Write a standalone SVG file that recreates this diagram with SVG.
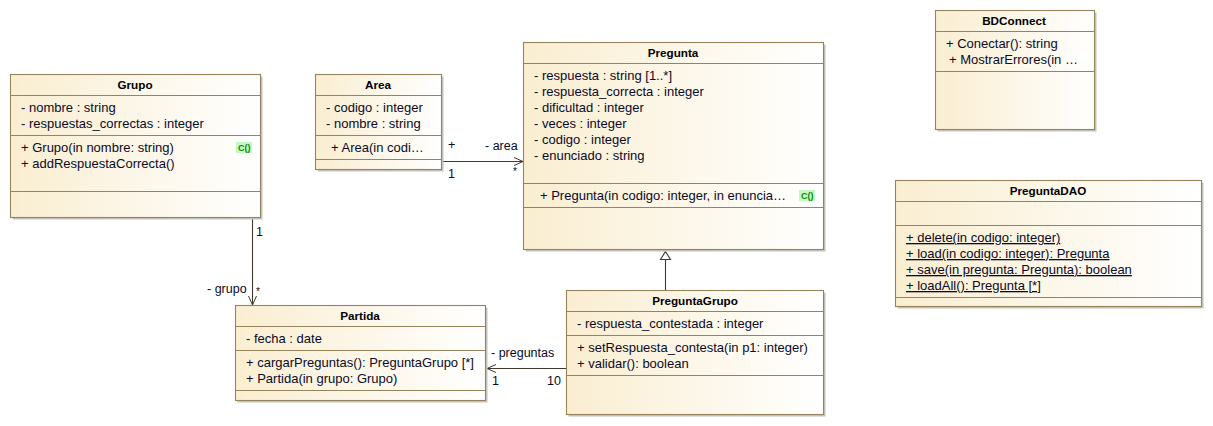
<svg xmlns="http://www.w3.org/2000/svg" width="1213" height="426" viewBox="0 0 1213 426">
<style>
text{font-family:"Liberation Sans",Arial,sans-serif;font-size:13px;fill:#0a0a28}
.t{font-weight:bold;font-size:11.700px;text-anchor:middle;fill:#000}
.box{fill:url(#g);stroke:#96855c;stroke-width:1.100}
.sh{fill:#c4c4bc}
.sep{stroke:#96855c;stroke-width:1;fill:none}
.c{stroke:#3f3a2a;stroke-width:1.100;fill:none}
.u{text-decoration:underline}
.b{fill:#c4f7c4}
.bt{font-size:9px;font-weight:bold;fill:#0a8a0a}
.s{font-size:10px}
.l{font-size:12.500px}
</style>
<defs>
<linearGradient id="g" x1="0" y1="0" x2="1" y2="0"><stop offset="0" stop-color="#faeed1"/><stop offset="1" stop-color="#ffffff"/></linearGradient>
<marker id="open" viewBox="0 0 10 10" refX="10" refY="5" markerWidth="10" markerHeight="10" markerUnits="userSpaceOnUse" orient="auto"><path d="M1 1L10 5L1 9" fill="none" stroke="#3f3a2a" stroke-width="1"/></marker>
</defs>
<g id="connectors">
<path class="c" d="M252.500 218V305" marker-end="url(#open)"/>
<path class="c" d="M443 161.500H523" marker-end="url(#open)"/>
<path class="c" d="M566 368.500H487" marker-end="url(#open)"/>
<path class="c" d="M665.500 290V260"/>
<path class="c" d="M665.500 251.500L670.500 259.500H660.500Z" style="fill:#fff"/>
<text x="256" y="236" class="l">1</text>
<text x="207" y="293" class="l">- grupo</text>
<text x="256" y="295" class="s">*</text>
<text x="448" y="149" class="l">+</text>
<text x="485" y="150" class="l">- area</text>
<text x="448" y="178" class="l">1</text>
<text x="513" y="175" class="s">*</text>
<text x="491" y="357" class="l">- preguntas</text>
<text x="492" y="385" class="l">1</text>
<text x="547" y="385" class="l">10</text>
</g>
<g id="Grupo">
<rect class="sh" x="12.500" y="76.500" width="250" height="143"/>
<rect class="box" x="10.500" y="74.500" width="250" height="143"/>
<path class="sep" d="M10.500 95.500H260.500M10.500 135.500H260.500M10.500 191.500H260.500"/>
<text class="t" x="135" y="89">Grupo</text>
<text x="21" y="112">- nombre : string</text>
<text x="21" y="128">- respuestas_correctas : integer</text>
<text x="21" y="152">+ Grupo(in nombre: string)</text>
<text x="21" y="168">+ addRespuestaCorrecta()</text>
<rect class="b" x="236" y="142" width="16" height="11"/>
<text class="bt" x="238" y="151">C()</text>
</g>
<g id="Area">
<rect class="sh" x="317.500" y="76.500" width="126" height="95"/>
<rect class="box" x="315.500" y="74.500" width="126" height="95"/>
<path class="sep" d="M315.500 95.500H441.500M315.500 135.500H441.500M315.500 159.500H441.500"/>
<text class="t" x="378" y="89">Area</text>
<text x="326" y="112">- codigo : integer</text>
<text x="326" y="128">- nombre : string</text>
<text x="331" y="152">+ Area(in codi…</text>
</g>
<g id="Pregunta">
<rect class="sh" x="525.500" y="44.500" width="300" height="207"/>
<rect class="box" x="523.500" y="42.500" width="300" height="207"/>
<path class="sep" d="M523.500 63.500H823.500M523.500 183.500H823.500M523.500 207.500H823.500"/>
<text class="t" x="673" y="57">Pregunta</text>
<text x="534" y="80">- respuesta : string [1..*]</text>
<text x="534" y="96">- respuesta_correcta : integer</text>
<text x="534" y="112">- dificultad : integer</text>
<text x="534" y="128">- veces : integer</text>
<text x="534" y="144">- codigo : integer</text>
<text x="534" y="160">- enunciado : string</text>
<text x="540" y="200">+ Pregunta(in codigo: integer, in enuncia…</text>
<rect class="b" x="799" y="190" width="16" height="11"/>
<text class="bt" x="801" y="199">C()</text>
</g>
<g id="PreguntaGrupo">
<rect class="sh" x="568.500" y="292.500" width="257" height="124"/>
<rect class="box" x="566.500" y="290.500" width="257" height="124"/>
<path class="sep" d="M566.500 311.500H823.500M566.500 335.500H823.500M566.500 375.500H823.500"/>
<text class="t" x="695" y="305">PreguntaGrupo</text>
<text x="577" y="328">- respuesta_contestada : integer</text>
<text x="577" y="352">+ setRespuesta_contesta(in p1: integer)</text>
<text x="577" y="368">+ validar(): boolean</text>
</g>
<g id="Partida">
<rect class="sh" x="237.500" y="307.500" width="250" height="95"/>
<rect class="box" x="235.500" y="305.500" width="250" height="95"/>
<path class="sep" d="M235.500 326.500H485.500M235.500 350.500H485.500M235.500 390.500H485.500"/>
<text class="t" x="360" y="320">Partida</text>
<text x="246" y="343">- fecha : date</text>
<text x="246" y="367">+ cargarPreguntas(): PreguntaGrupo [*]</text>
<text x="246" y="383">+ Partida(in grupo: Grupo)</text>
</g>
<g id="BDConnect">
<rect class="sh" x="937.500" y="12.500" width="159" height="119"/>
<rect class="box" x="935.500" y="10.500" width="159" height="119"/>
<path class="sep" d="M935.500 31.500H1094.500M935.500 71.500H1094.500"/>
<text class="t" x="1014" y="25">BDConnect</text>
<text x="946" y="48">+ Conectar(): string</text>
<text x="949" y="64">+ MostrarErrores(in …</text>
</g>
<g id="PreguntaDAO">
<rect class="sh" x="897.500" y="182.500" width="306" height="126"/>
<rect class="box" x="895.500" y="180.500" width="306" height="126"/>
<path class="sep" d="M895.500 201.500H1201.500M895.500 225.500H1201.500M895.500 297.500H1201.500"/>
<text class="t" x="1048" y="195">PreguntaDAO</text>
<text class="u" x="906" y="242">+ delete(in codigo: integer)</text>
<text class="u" x="906" y="258">+ load(in codigo: integer): Pregunta</text>
<text class="u" x="906" y="274">+ save(in pregunta: Pregunta): boolean</text>
<text class="u" x="906" y="290">+ loadAll(): Pregunta [*]</text>
</g>
</svg>
